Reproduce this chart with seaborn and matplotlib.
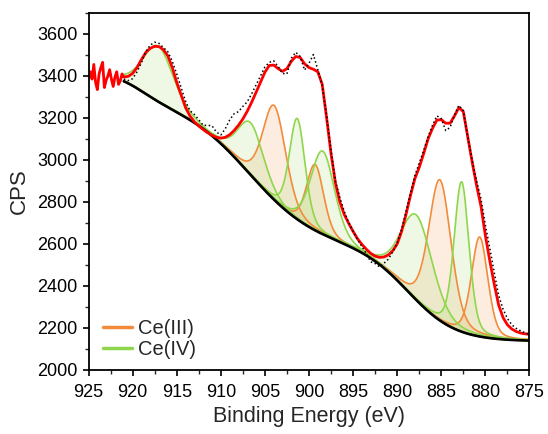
import numpy as np
import matplotlib
matplotlib.use("Agg")
import matplotlib.pyplot as plt
from matplotlib.lines import Line2D
from matplotlib.ticker import MultipleLocator
import seaborn as sns

# Ce 3d spectrum: binding-energy grid of the fitted window (eV)
fit_E = np.round(np.arange(921.0, 874.99, -0.5), 2)

# cumulative fit envelope (CPS) on fit_E
fit_I = [3395, 3398, 3412, 3440, 3478, 3512, 3532, 3541, 3540, 3525,
         3495, 3440, 3370, 3310, 3250, 3210, 3182, 3162, 3145, 3130,
         3118, 3108, 3104, 3108, 3120, 3140, 3165, 3195, 3232, 3275,
         3322, 3370, 3418, 3450, 3452, 3435, 3422, 3435, 3470, 3493,
         3488, 3458, 3440, 3432, 3420, 3360, 3200, 3030, 2890, 2800,
         2740, 2698, 2660, 2625, 2598, 2575, 2555, 2542, 2536, 2538,
         2548, 2568, 2600, 2660, 2740, 2830, 2910, 2965, 3030, 3100,
         3150, 3190, 3192, 3175, 3175, 3210, 3250, 3230, 3110, 2990,
         2880, 2780, 2640, 2520, 2410, 2310, 2250, 2215, 2195, 2183,
         2176, 2172, 2170]

# measured counts minus envelope on fit_E
resid = [-10, -20, -25, -20, -15, 5, 15, 20, 15, 10,
         20, 30, 40, 35, 30, 25, 35, 30, 20, 35,
         45, 25, 15, 40, 70, 80, 65, 60, 45, 40,
         35, 30, 25, 15, 20, 10, -10, -25, 15, 20,
         5, -30, 20, 70, 10, -5, 10, 15, 10, 20,
         15, 5, 0, -5, -10, -20, -40, -35, -45, -30,
         -20, -5, 5, 10, 15, 10, 15, 20, 15, 10,
         15, 20, 5, -35, -20, 5, 10, 5, 0, 10,
         20, 35, 50, 60, 55, 45, 40, 30, 20, 15,
         10, 5, 0]

# measured counts outside the fitted window (925-921 eV)
edge_E = np.round(np.arange(925.0, 921.0, -0.2), 2)
edge_I = [3395, 3420, 3385, 3455, 3370, 3335, 3410, 3440, 3465, 3345,
          3380, 3400, 3430, 3385, 3350, 3395, 3420, 3360, 3375, 3410]

# Shirley-type background: base level plus three smooth steps
bg_base = 2137
bg_amp = [453, 694, 140]
bg_mid = [888.66, 906.78, 919.0]
bg_wid = [5.36, 7.50, 3.5]

# fitted components: centre (eV), height above background (CPS), FWHM (eV)
ce3_pos = [880.65, 885.15, 899.3, 903.93]
ce3_amp = [474, 670, 314, 449]
ce3_fwhm = [2.2, 3.0, 2.3, 3.1]
ce4_pos = [882.7, 887.8, 898.45, 901.33, 906.6, 917.1]
ce4_amp = [714, 405, 396, 480, 248, 265]
ce4_fwhm = [2.0, 4.3, 3.2, 2.1, 3.5, 4.1]
lorentz_frac = 0.3


def background(E):
    out = np.full_like(E, float(bg_base))
    for a, c, s in zip(bg_amp, bg_mid, bg_wid):
        out += a * 0.5 * (1 + np.tanh((E - c) / s))
    return out


def pseudo_voigt(E, c, h, w):
    d = (E - c) / w
    return h * ((1 - lorentz_frac) * np.exp(-4 * np.log(2) * d ** 2)
                + lorentz_frac / (1 + 4 * d ** 2))


E = np.arange(875.0, 921.0001, 0.05)
bg = background(E)
comps3 = [pseudo_voigt(E, c, h, w) for c, h, w in zip(ce3_pos, ce3_amp, ce3_fwhm)]
comps4 = [pseudo_voigt(E, c, h, w) for c, h, w in zip(ce4_pos, ce4_amp, ce4_fwhm)]
raw_I = np.array(fit_I) + np.array(resid)

sns.set_style("ticks")
plt.rcParams["font.family"] = ["Liberation Sans", "DejaVu Sans"]
plt.rcParams["axes.linewidth"] = 1.3

fig = plt.figure(figsize=(5.48, 4.34), dpi=100)
ax = fig.add_axes([0.1615, 0.1475, 0.8047, 0.8226])

orange = "#F28C3C"
green = "#8FD64C"
for cp in comps3:
    ax.fill_between(E, bg, bg + cp, color=orange, alpha=0.15, lw=0)
for cp in comps4:
    ax.fill_between(E, bg, bg + cp, color=green, alpha=0.15, lw=0)
for cp in comps3:
    sns.lineplot(x=E, y=bg + cp, color=orange, lw=1.2, ax=ax, sort=False, estimator=None)
for cp in comps4:
    sns.lineplot(x=E, y=bg + cp, color=green, lw=1.2, ax=ax, sort=False, estimator=None)
sns.lineplot(x=E, y=bg, color="black", lw=1.9, ax=ax, sort=False, estimator=None)
sns.lineplot(x=np.r_[edge_E, fit_E], y=np.r_[edge_I, fit_I], color="#FF0000", lw=2.0,
             ax=ax, sort=False, estimator=None)
ax.plot(fit_E, raw_I, ls=":", color="black", lw=1.1, zorder=5)

ax.set_xlim(925, 875)
ax.set_ylim(2000, 3700)
ax.xaxis.set_major_locator(MultipleLocator(5))
ax.xaxis.set_minor_locator(MultipleLocator(2.5))
ax.yaxis.set_major_locator(MultipleLocator(200))
ax.yaxis.set_minor_locator(MultipleLocator(100))
ax.tick_params(which="major", direction="out", length=4.5, width=1.2, labelsize=13, colors="black")
ax.tick_params(axis="x", which="major", pad=5.5)
ax.tick_params(which="minor", direction="out", length=2.8, width=1.0)
for s in ax.spines.values():
    s.set_visible(True)
    s.set_color("black")
ax.set_xlabel("Binding Energy (eV)", fontsize=15.5, labelpad=4)
ax.set_ylabel("CPS", fontsize=16, labelpad=5)

handles = [Line2D([], [], color=orange, lw=2.5), Line2D([], [], color=green, lw=2.5)]
ax.legend(handles, ["Ce(III)", "Ce(IV)"], loc="lower left", bbox_to_anchor=(0.033, 0.03),
          frameon=False, fontsize=14.5, handlelength=1.45, handletextpad=0.3,
          labelspacing=0.12, borderpad=0, borderaxespad=0)

fig.savefig("out.png", dpi=100)
